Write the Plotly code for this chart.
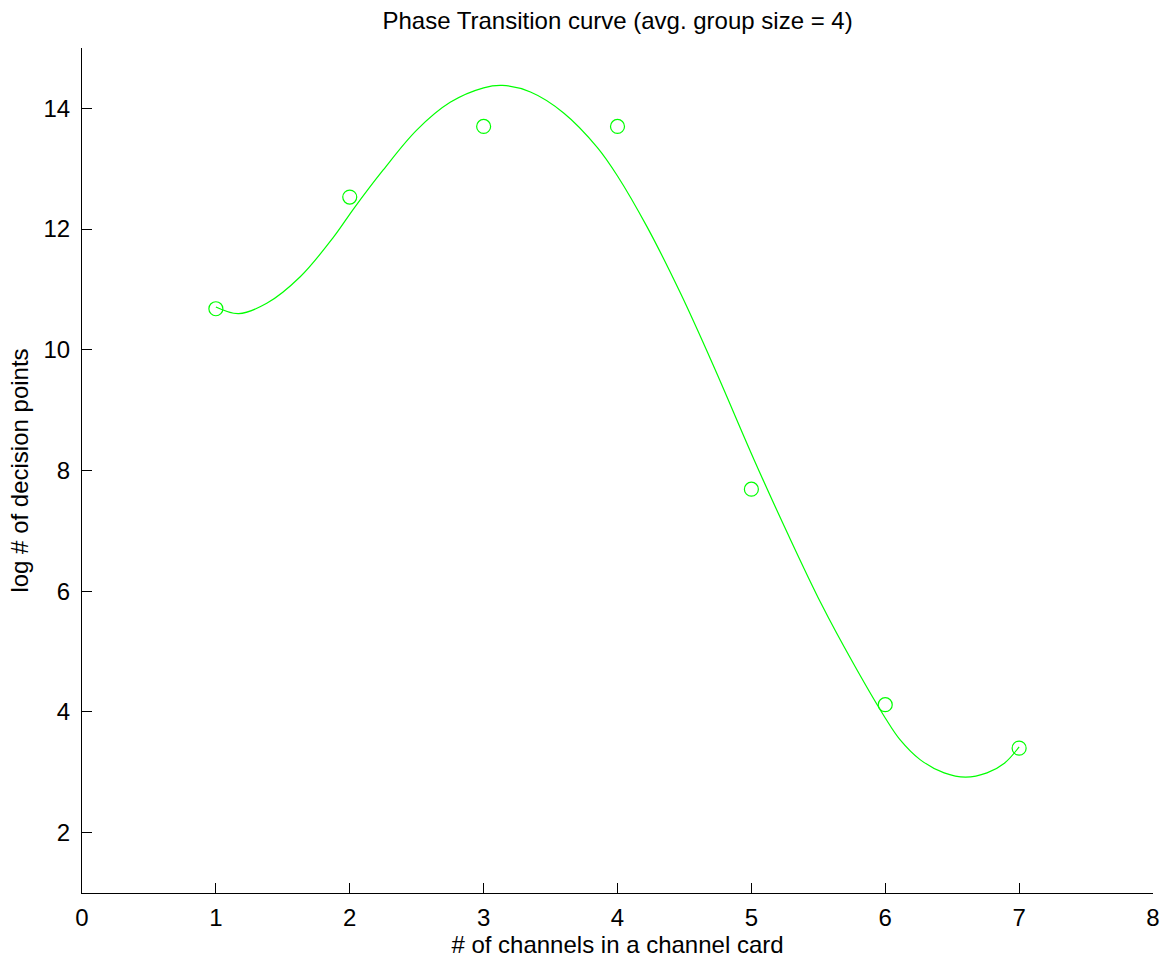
import plotly.graph_objects as go

# Observed data points
channels = [1, 2, 3, 4, 5, 6, 7]
log_decision_points = [10.68, 12.53, 13.70, 13.70, 7.69, 4.12, 3.40]

# Fitted curve
curve_x = [1.00, 1.17, 1.38, 1.63, 1.88, 2.03, 2.25, 2.50, 2.75, 3.00, 3.14, 3.35,
           3.60, 3.85, 4.00, 4.22, 4.47, 4.72, 5.02, 5.27, 5.52,
           5.76, 6.00, 6.11, 6.26, 6.44, 6.60, 6.76, 6.89, 7.00]
curve_y = [10.71, 10.60, 10.77, 11.21, 11.87, 12.34, 12.98, 13.64, 14.10, 14.34, 14.38, 14.27,
           13.92, 13.35, 12.88, 12.04, 10.94, 9.72, 8.18, 6.96, 5.80,
           4.81, 3.90, 3.54, 3.21, 2.99, 2.92, 2.99, 3.15, 3.42]

x_ticks = [0, 1, 2, 3, 4, 5, 6, 7, 8]
y_ticks = [2, 4, 6, 8, 10, 12, 14]

title_text = "Phase Transition curve (avg. group size = 4)"
x_title = "# of channels in a channel card"
y_title = "log # of decision points"

GREEN = "#00ff00"
FONT = "Liberation Sans, Arial, Helvetica, sans-serif"
FS = 24

fig = go.Figure()
fig.add_trace(go.Scatter(
    x=channels, y=log_decision_points, mode="markers",
    marker=dict(symbol="circle-open", size=14, color=GREEN, line=dict(width=1.2, color=GREEN)),
    showlegend=False, hoverinfo="skip"))
fig.add_trace(go.Scatter(
    x=curve_x, y=curve_y, mode="lines",
    line=dict(color=GREEN, width=1.2, shape="spline", smoothing=1.0),
    showlegend=False, hoverinfo="skip"))

axis_common = dict(
    showgrid=False, zeroline=False, showline=True, linecolor="black", linewidth=1,
    ticks="inside", ticklen=10, tickwidth=1, tickcolor="black",
    tickfont=dict(family=FONT, size=FS, color="black"), mirror=False,
)

fig.update_layout(
    width=1173, height=960,
    margin=dict(l=82, r=20, t=48, b=67),
    paper_bgcolor="white", plot_bgcolor="white",
    font=dict(family=FONT, size=FS, color="black"),
    title=dict(text=title_text, x=0.5265, xanchor="center", xref="container",
               y=1 - 21 / 960, yanchor="middle", yref="container",
               font=dict(family=FONT, size=FS, color="black")),
    xaxis=dict(range=[0, 8], tickvals=x_ticks, ticktext=[str(v) for v in x_ticks],
               title=dict(text=x_title, standoff=1, font=dict(family=FONT, size=FS, color="black")),
               ticklabelstandoff=3,
               **axis_common),
    yaxis=dict(range=[1, 15], tickvals=y_ticks, ticktext=[str(v) for v in y_ticks],
               title=dict(text=y_title, standoff=8, font=dict(family=FONT, size=FS, color="black")),
               ticklabelstandoff=6,
               **axis_common),
)

fig.write_html("out.html")
